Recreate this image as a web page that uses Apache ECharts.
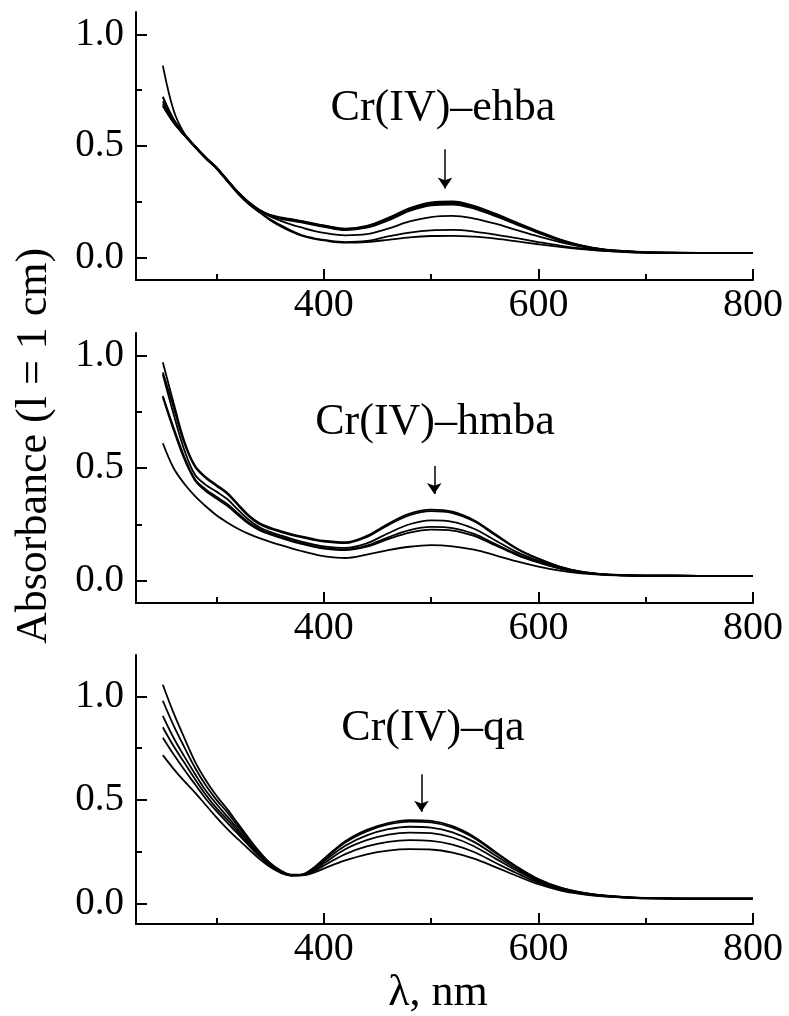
<!DOCTYPE html>
<html>
<head>
<meta charset="utf-8">
<script src="https://cdn.jsdelivr.net/npm/echarts@6/dist/echarts.min.js"></script>
<style>
  html, body { margin: 0; padding: 0; background: #fff; }
  #chart { width: 789px; height: 1016px; }
</style>
</head>
<body>
<div id="chart"></div>
<script>
// wavelengths (nm) shared by all spectra
var wavelengths = [250, 260, 270, 280, 290, 300, 310, 320, 330, 340, 350, 360, 370, 380, 390, 400,
    420, 440, 460, 480, 500, 520, 540, 560, 580, 600, 620, 640, 660, 680, 700, 750, 800]

// Cr(IV)-ehba spectra
var ehba_1 = [0.72, 0.62, 0.555, 0.50, 0.45, 0.405, 0.35, 0.295, 0.25, 0.215, 0.192, 0.18, 0.172, 0.164, 0.154, 0.145, 0.13, 0.142, 0.178, 0.222, 0.248, 0.252, 0.232, 0.197, 0.157, 0.118, 0.082, 0.055, 0.038, 0.03, 0.025, 0.021, 0.02]
var ehba_2 = [0.70, 0.61, 0.55, 0.498, 0.448, 0.402, 0.348, 0.293, 0.248, 0.213, 0.19, 0.178, 0.17, 0.162, 0.152, 0.143, 0.128, 0.14, 0.175, 0.218, 0.243, 0.247, 0.228, 0.193, 0.154, 0.116, 0.08, 0.054, 0.037, 0.029, 0.024, 0.021, 0.02]
var ehba_3 = [0.69, 0.61, 0.55, 0.497, 0.447, 0.401, 0.347, 0.292, 0.247, 0.212, 0.188, 0.176, 0.168, 0.16, 0.15, 0.141, 0.126, 0.137, 0.171, 0.214, 0.239, 0.243, 0.224, 0.19, 0.151, 0.113, 0.078, 0.053, 0.036, 0.029, 0.024, 0.021, 0.02]
var ehba_4 = [0.68, 0.605, 0.548, 0.495, 0.445, 0.40, 0.346, 0.291, 0.246, 0.211, 0.187, 0.174, 0.165, 0.157, 0.147, 0.138, 0.123, 0.134, 0.167, 0.209, 0.234, 0.238, 0.22, 0.186, 0.148, 0.111, 0.077, 0.052, 0.036, 0.028, 0.024, 0.021, 0.02]
var ehba_5 = [0.68, 0.605, 0.548, 0.495, 0.445, 0.40, 0.345, 0.29, 0.245, 0.21, 0.185, 0.165, 0.148, 0.134, 0.121, 0.111, 0.1, 0.105, 0.13, 0.162, 0.182, 0.187, 0.175, 0.152, 0.123, 0.095, 0.07, 0.05, 0.036, 0.028, 0.024, 0.021, 0.02]
var ehba_6 = [0.72, 0.62, 0.553, 0.497, 0.446, 0.40, 0.344, 0.288, 0.242, 0.205, 0.172, 0.145, 0.12, 0.1, 0.088, 0.08, 0.07, 0.075, 0.095, 0.112, 0.122, 0.124, 0.117, 0.103, 0.087, 0.07, 0.054, 0.041, 0.032, 0.026, 0.023, 0.02, 0.02]
var ehba_7 = [0.86, 0.66, 0.556, 0.498, 0.446, 0.40, 0.343, 0.287, 0.24, 0.203, 0.168, 0.14, 0.116, 0.097, 0.085, 0.077, 0.067, 0.07, 0.08, 0.091, 0.097, 0.098, 0.094, 0.085, 0.073, 0.06, 0.048, 0.038, 0.03, 0.025, 0.022, 0.02, 0.02]

// Cr(IV)-hmba spectra
var hmba_1 = [0.97, 0.79, 0.62, 0.51, 0.46, 0.425, 0.39, 0.34, 0.29, 0.255, 0.235, 0.22, 0.206, 0.195, 0.185, 0.177, 0.17, 0.198, 0.252, 0.297, 0.315, 0.306, 0.268, 0.205, 0.142, 0.097, 0.062, 0.039, 0.028, 0.024, 0.022, 0.021, 0.021]
var hmba_2 = [0.925, 0.77, 0.61, 0.505, 0.455, 0.42, 0.385, 0.335, 0.285, 0.25, 0.23, 0.215, 0.202, 0.191, 0.181, 0.173, 0.166, 0.193, 0.246, 0.29, 0.308, 0.30, 0.263, 0.201, 0.14, 0.096, 0.061, 0.039, 0.028, 0.024, 0.022, 0.021, 0.021]
var hmba_3 = [0.915, 0.74, 0.58, 0.47, 0.425, 0.395, 0.362, 0.315, 0.27, 0.237, 0.216, 0.20, 0.185, 0.172, 0.161, 0.152, 0.145, 0.165, 0.21, 0.25, 0.267, 0.261, 0.23, 0.178, 0.126, 0.088, 0.057, 0.037, 0.027, 0.023, 0.022, 0.021, 0.021]
var hmba_4 = [0.82, 0.68, 0.55, 0.45, 0.405, 0.372, 0.34, 0.298, 0.258, 0.229, 0.209, 0.193, 0.178, 0.165, 0.154, 0.145, 0.138, 0.155, 0.192, 0.224, 0.238, 0.233, 0.207, 0.162, 0.117, 0.082, 0.054, 0.036, 0.027, 0.023, 0.022, 0.021, 0.021]
var hmba_5 = [0.815, 0.67, 0.54, 0.445, 0.398, 0.364, 0.332, 0.291, 0.252, 0.224, 0.205, 0.189, 0.174, 0.162, 0.151, 0.142, 0.135, 0.15, 0.184, 0.213, 0.226, 0.222, 0.198, 0.156, 0.113, 0.08, 0.053, 0.035, 0.026, 0.023, 0.022, 0.021, 0.021]
var hmba_6 = [0.61, 0.50, 0.43, 0.375, 0.33, 0.29, 0.258, 0.23, 0.207, 0.188, 0.172, 0.157, 0.143, 0.13, 0.118, 0.108, 0.10, 0.115, 0.135, 0.15, 0.157, 0.152, 0.137, 0.112, 0.085, 0.062, 0.044, 0.032, 0.025, 0.022, 0.021, 0.021, 0.021]

// Cr(IV)-qa spectra
var qa_1 = [1.056, 0.92, 0.80, 0.685, 0.595, 0.52, 0.455, 0.385, 0.315, 0.25, 0.195, 0.158, 0.138, 0.14, 0.17, 0.215, 0.30, 0.355, 0.388, 0.402, 0.398, 0.373, 0.322, 0.248, 0.177, 0.117, 0.077, 0.053, 0.039, 0.031, 0.026, 0.022, 0.022]
var qa_2 = [0.979, 0.86, 0.755, 0.655, 0.57, 0.50, 0.44, 0.372, 0.305, 0.243, 0.19, 0.155, 0.137, 0.139, 0.168, 0.211, 0.294, 0.348, 0.381, 0.395, 0.391, 0.366, 0.316, 0.244, 0.174, 0.115, 0.076, 0.052, 0.038, 0.03, 0.026, 0.022, 0.022]
var qa_3 = [0.906, 0.80, 0.71, 0.625, 0.545, 0.48, 0.42, 0.358, 0.295, 0.237, 0.186, 0.153, 0.136, 0.138, 0.163, 0.203, 0.278, 0.328, 0.358, 0.37, 0.366, 0.343, 0.297, 0.231, 0.166, 0.111, 0.074, 0.051, 0.037, 0.03, 0.025, 0.022, 0.022]
var qa_4 = [0.851, 0.76, 0.68, 0.60, 0.525, 0.46, 0.405, 0.346, 0.287, 0.232, 0.183, 0.151, 0.135, 0.137, 0.158, 0.193, 0.261, 0.305, 0.332, 0.342, 0.339, 0.318, 0.276, 0.216, 0.157, 0.106, 0.071, 0.049, 0.036, 0.029, 0.025, 0.022, 0.022]
var qa_5 = [0.80, 0.72, 0.645, 0.575, 0.505, 0.445, 0.39, 0.335, 0.28, 0.227, 0.18, 0.149, 0.134, 0.136, 0.153, 0.182, 0.238, 0.275, 0.297, 0.305, 0.302, 0.284, 0.248, 0.196, 0.145, 0.099, 0.067, 0.047, 0.035, 0.028, 0.024, 0.022, 0.022]
var qa_6 = [0.716, 0.65, 0.59, 0.535, 0.475, 0.415, 0.36, 0.31, 0.262, 0.215, 0.175, 0.147, 0.134, 0.135, 0.147, 0.168, 0.207, 0.237, 0.255, 0.262, 0.26, 0.245, 0.216, 0.175, 0.132, 0.092, 0.063, 0.045, 0.034, 0.028, 0.024, 0.022, 0.022]

var panel_series = [
    [ehba_1, ehba_2, ehba_3, ehba_4, ehba_5, ehba_6, ehba_7],
    [hmba_1, hmba_2, hmba_3, hmba_4, hmba_5, hmba_6],
    [qa_1, qa_2, qa_3, qa_4, qa_5, qa_6]
]
var panel_names = ['Cr(IV)\u2013ehba', 'Cr(IV)\u2013hmba', 'Cr(IV)\u2013qa']
// arrows: [wavelength, from absorbance, to absorbance]
var panel_arrows = [[513, 0.485, 0.31], [503, 0.509, 0.384], [491, 0.624, 0.442]]
var y_max = [1.1, 1.1, 1.2]

var x_labels = [400, 600, 800]
var x_minor = [300, 500, 700]
var y_labels = [0, 0.5, 1.0]
var y_minor = [0.25, 0.75]

var font = '"Liberation Serif", "Times New Roman", serif'

var grids = [
    {left: 136, right: 36, top: 12, height: 268},
    {left: 136, right: 36, top: 333, height: 270},
    {left: 136, right: 36, top: 655, height: 269}
]

var xAxes = []
var yAxes = []
var series = []

for (var p = 0; p < 3; p++) {
    xAxes.push({
        type: 'value', gridIndex: p, min: 225, max: 800, position: 'bottom',
        axisLine: {onZero: false, lineStyle: {color: '#000', width: 2}},
        axisTick: {inside: true, length: 11, customValues: x_labels, lineStyle: {color: '#000', width: 2}},
        axisLabel: {customValues: x_labels, color: '#000', fontFamily: font, fontSize: 40, margin: 5},
        splitLine: {show: false}
    })
    xAxes.push({
        type: 'value', gridIndex: p, min: 225, max: 800, position: 'bottom',
        axisLine: {show: false, onZero: false},
        axisTick: {inside: true, length: 6, customValues: x_minor, lineStyle: {color: '#000', width: 2}},
        axisLabel: {show: false},
        splitLine: {show: false}
    })
    yAxes.push({
        type: 'value', gridIndex: p, min: -0.1, max: y_max[p], position: 'left',
        axisLine: {show: true, onZero: false, lineStyle: {color: '#000', width: 2}},
        axisTick: {show: true, inside: true, length: 11, customValues: y_labels, lineStyle: {color: '#000', width: 2}},
        axisLabel: {
            customValues: y_labels, color: '#000', fontFamily: font, fontSize: 39, margin: 12,
            formatter: function (v) { return v.toFixed(1) }
        },
        splitLine: {show: false}
    })
    yAxes.push({
        type: 'value', gridIndex: p, min: -0.1, max: y_max[p], position: 'left',
        axisLine: {show: false, onZero: false},
        axisTick: {show: true, inside: true, length: 6, customValues: y_minor, lineStyle: {color: '#000', width: 2}},
        axisLabel: {show: false},
        splitLine: {show: false}
    })

    var list = panel_series[p]
    for (var s = 0; s < list.length; s++) {
        var pts = []
        for (var i = 0; i < wavelengths.length; i++) {
            pts.push([wavelengths[i], list[s][i]])
        }
        var item = {
            name: panel_names[p] + ' ' + (s + 1),
            type: 'line',
            xAxisIndex: p * 2,
            yAxisIndex: p * 2,
            data: pts,
            smooth: 0.35,
            showSymbol: false,
            silent: true,
            lineStyle: {color: '#000', width: 1.8}
        }
        if (s == 0) {
            var a = panel_arrows[p]
            item.markLine = {
                silent: true,
                symbol: ['none', 'arrow'],
                symbolSize: 11,
                label: {show: false},
                lineStyle: {color: '#000', width: 1.5, type: 'solid'},
                data: [[{coord: [a[0], a[1]]}, {coord: [a[0], a[2]]}]]
            }
        }
        series.push(item)
    }
}

var text_style = function (txt, size) {
    return {text: txt, fill: '#000', font: size + 'px ' + font, align: 'center', verticalAlign: 'middle'}
}

var option = {
    animation: false,
    backgroundColor: '#fff',
    grid: grids,
    xAxis: xAxes,
    yAxis: yAxes,
    series: series,
    graphic: [
        {type: 'text', x: 443, y: 108, style: text_style(panel_names[0], 44)},
        {type: 'text', x: 435, y: 422, style: text_style(panel_names[1], 44)},
        {type: 'text', x: 433, y: 728, style: text_style(panel_names[2], 44)},
        {type: 'text', x: 438, y: 993, style: text_style('\u03bb, nm', 44)},
        {type: 'text', x: 34, y: 446, rotation: Math.PI / 2, style: text_style('Absorbance (l = 1 cm)', 44)}
    ]
}

var myChart = echarts.init(document.getElementById('chart'))
myChart.setOption(option)
</script>
</body>
</html>
